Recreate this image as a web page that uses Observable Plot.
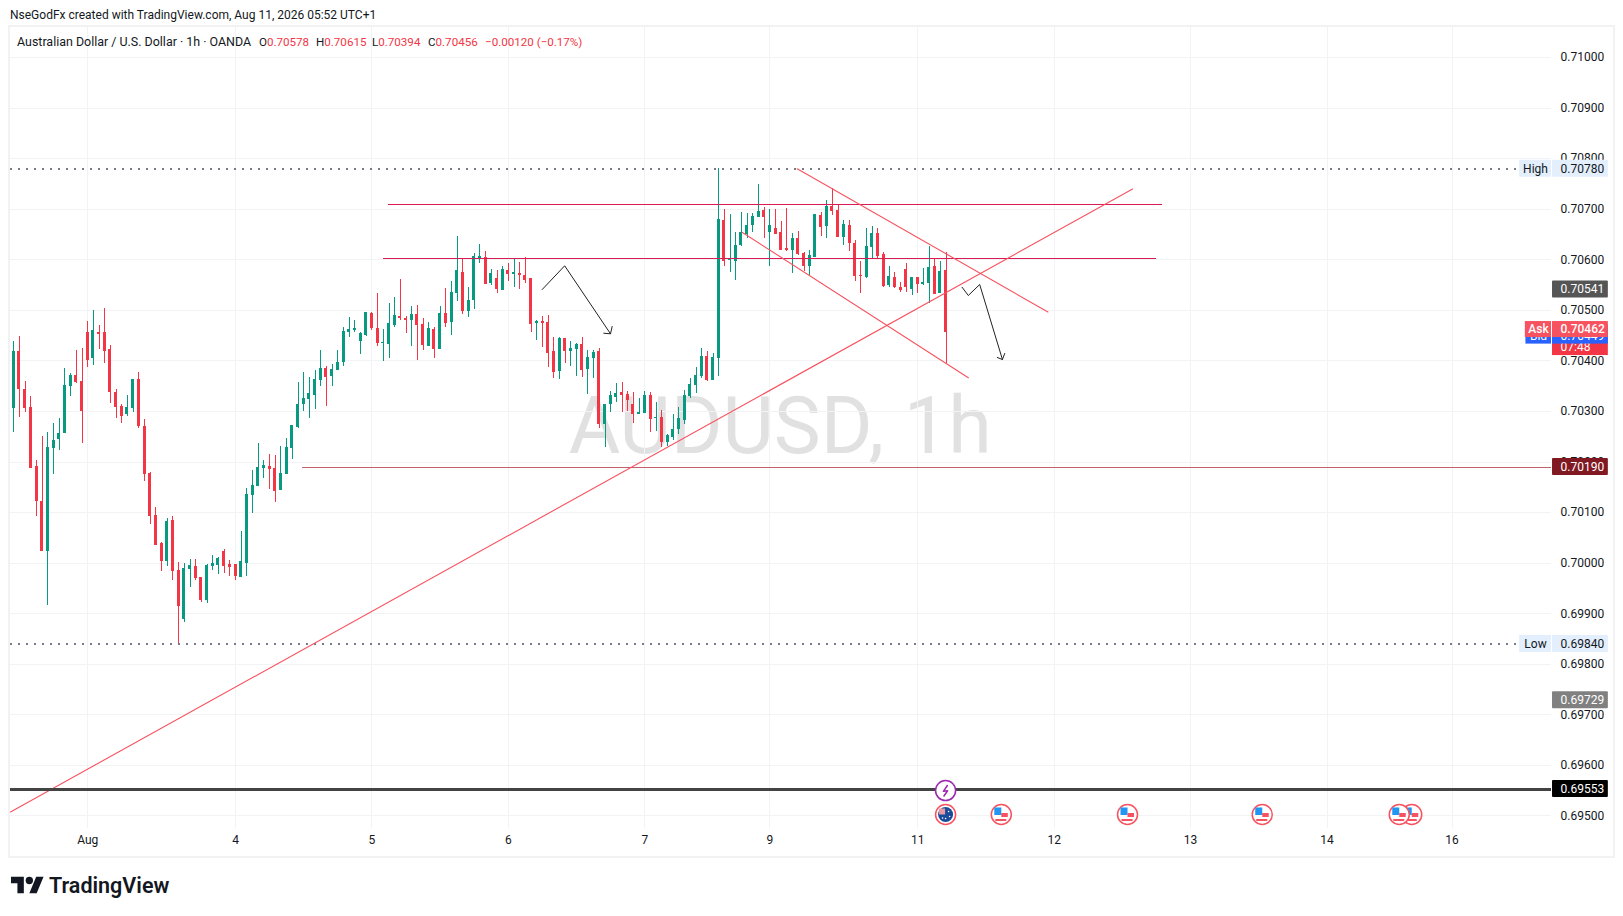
<!DOCTYPE html>
<html><head><meta charset="utf-8">
<script src="https://cdn.jsdelivr.net/npm/d3@7"></script>
<script src="https://cdn.jsdelivr.net/npm/@observablehq/plot@0.6"></script>
<style>
html,body{margin:0;padding:0;background:#fff;width:1623px;height:916px;overflow:hidden;font-family:Roboto,sans-serif;color:#131722}
#credit{position:absolute;left:10px;top:7px;font-size:12px;line-height:16px;letter-spacing:0}
#legend span{position:absolute;top:34px;font-size:11.6px;line-height:16px;white-space:pre;z-index:3}
#legend b{font-weight:400;color:#f23645}
#legend .name{font-size:12.45px}
#panel{position:absolute;left:8px;top:25px;width:1603px;height:829px;border:2px solid #f2f2f2}
#panel svg{display:block}
#logo{position:absolute;left:11px;top:873px;display:flex;align-items:center;gap:5px;font-size:21.5px;font-weight:600;color:#131722;line-height:26px}
</style></head><body>
<div id="credit">NseGodFx created with TradingView.com, Aug 11, 2026 05:52 UTC+1</div>
<div id="legend"><span class="name" style="left:17px">Australian Dollar / U.S. Dollar · 1h · OANDA</span><span style="left:259px">O<b>0.70578</b></span><span style="left:316px">H<b>0.70615</b></span><span style="left:372px">L<b>0.70394</b></span><span style="left:428px">C<b>0.70456</b></span><span style="left:485px"><b>−0.00120 (−0.17%)</b></span></div>
<div id="panel"></div>
<div id="logo"><svg width="33" height="26" viewBox="0 0 36 28"><path fill="#131722" d="M14 22H7V11H0V4h14v18zM28 22h-8l7.5-18h8L28 22z"/><circle fill="#131722" cx="20" cy="8" r="4"/></svg><span>TradingView</span></div>
<script>
// Candles in price points (0.00001)
const opens=[70306,70419,70343,70308,70191,70122,70023,70227,70245,70256,
70349,70371,70359,70456,70405,70456,70456,70423,70337,70310,
70294,70306,70363,70270,70177,70094,70039,70003,70084,69985,
69888,69987,69993,69972,69926,69993,69995,70023,69997,69997,
69972,69999,70134,70152,70187,70191,70187,70144,70175,70227,
70268,70314,70324,70332,70362,70385,70369,70381,70397,70456,
70460,70439,70451,70494,70464,70435,70433,70470,70488,70484,
70480,70492,70472,70429,70462,70423,70494,70476,70534,70575,
70498,70520,70603,70605,70553,70563,70540,70579,70571,70573,
70569,70563,70474,70478,70476,70419,70379,70445,70419,70423,
70433,70383,70405,70419,70275,70314,70328,70337,70333,70314,
70294,70296,70331,70286,70288,70238,70248,70264,70282,70329,
70351,70369,70409,70361,70405,70678,70598,70596,70628,70650,
70668,70683,70697,70654,70662,70654,70622,70618,70642,70612,
70587,70604,70687,70666,70705,70697,70644,70668,70632,70569,
70565,70624,70652,70610,70549,70565,70545,70581,70541,70565,
70551,70553,70587,70533,70578];
const highs=[70438,70448,70359,70330,70203,70250,70258,70276,70286,70385,
70375,70421,70425,70478,70500,70470,70504,70430,70343,70314,
70332,70363,70377,70284,70179,70110,70041,70088,70092,70001,
69999,70007,70007,69972,69997,70015,70011,70027,70005,69997,
70063,70148,70183,70237,70203,70215,70213,70231,70246,70272,
70357,70377,70367,70381,70421,70389,70393,70421,70466,70486,
70480,70456,70496,70496,70534,70462,70514,70526,70561,70488,
70508,70510,70484,70476,70466,70508,70544,70557,70646,70601,
70545,70613,70631,70617,70581,70579,70587,70593,70603,70595,
70605,70563,70480,70488,70490,70447,70447,70445,70439,70435,
70447,70421,70421,70425,70314,70340,70356,70357,70339,70337,
70326,70339,70337,70318,70302,70254,70294,70308,70341,70365,
70387,70424,70418,70415,70780,70699,70689,70654,70693,70691,
70691,70749,70703,70699,70699,70676,70701,70652,70656,70614,
70618,70689,70693,70717,70741,70707,70678,70678,70638,70596,
70662,70666,70662,70614,70587,70575,70555,70593,70565,70565,
70583,70626,70600,70596,70615];
const lows=[70258,70288,70298,70187,70092,70023,69916,70175,70223,70256,
70330,70355,70237,70387,70391,70423,70395,70316,70286,70276,
70290,70298,70266,70161,70076,70035,69983,69993,69966,69841,
69883,69952,69966,69922,69920,69985,69978,69979,69974,69966,
69972,69974,70098,70152,70167,70146,70120,70144,70175,70205,
70266,70300,70286,70304,70350,70310,70350,70381,70389,70447,
70456,70413,70449,70460,70429,70399,70405,70466,70480,70455,
70429,70401,70421,70429,70405,70423,70466,70451,70518,70492,
70486,70502,70593,70551,70549,70534,70540,70557,70545,70542,
70553,70456,70441,70427,70387,70366,70364,70395,70389,70369,
70367,70334,70366,70267,70229,70298,70318,70298,70300,70276,
70294,70296,70258,70260,70229,70231,70242,70254,70274,70326,
70335,70365,70359,70361,70369,70587,70575,70559,70626,70642,
70654,70683,70642,70587,70650,70618,70616,70573,70608,70577,
70567,70604,70646,70642,70687,70644,70628,70616,70557,70533,
70563,70600,70600,70545,70545,70543,70535,70535,70529,70533,
70549,70513,70531,70533,70394];
const closes=[70419,70343,70306,70187,70122,70023,70229,70243,70256,70351,
70371,70357,70300,70401,70460,70452,70419,70337,70308,70290,
70308,70363,70270,70175,70092,70035,70003,70082,69983,69914,
69989,69995,69970,69926,69995,69999,70009,69993,69991,69974,
70003,70136,70154,70189,70193,70185,70142,70177,70229,70272,
70314,70326,70335,70363,70385,70367,70383,70397,70458,70462,
70464,70454,70496,70464,70435,70437,70474,70490,70484,70480,
70492,70470,70431,70464,70423,70494,70474,70536,70579,70498,
70520,70607,70607,70551,70573,70542,70581,70571,70575,70569,
70559,70472,70477,70474,70415,70377,70445,70419,70425,70433,
70381,70407,70417,70275,70314,70332,70336,70331,70322,70294,
70298,70331,70284,70288,70238,70252,70264,70286,70331,70353,
70371,70409,70361,70407,70680,70596,70600,70628,70654,70668,
70685,70695,70683,70668,70650,70618,70618,70642,70610,70587,
70608,70689,70664,70705,70695,70644,70670,70632,70567,70567,
70626,70652,70606,70547,70567,70545,70539,70545,70565,70551,
70555,70585,70531,70577,70456];

const priceTicks=[0.695,0.696,0.697,0.698,0.699,0.700,0.701,0.702,0.703,0.704,0.705,0.706,0.707,0.708,0.709,0.710];
const dayBars=[13,39,63,87,111,133,159,183,207,231,253];
const dayLabels=["Aug","4","5","6","7","9","11","12","13","14","16"];

// Drawings: [bar, price] pairs
const upTrend=[[-0.58,0.695078],[196.8,0.7074]];
const channelUpper=[[137.8,0.7078],[181.9,0.704967]];
const channelLower=[[128.1,0.706545],[167.9,0.703665]];
const resistanceTop=[[65.9,0.70709],[201.9,0.70709]];
const resistanceMid=[[65,0.70602],[200.9,0.70602]];
const arrowOne=[[92.95,0.705412],[96.9,0.705881],[104.96,0.704536]];
const arrowOneHead=[[103.78,0.704547],[104.96,0.704536],[105.25,0.70468]];
const arrowTwo=[[166.8,0.705457],[167.9,0.705293],[169.9,0.705511],[173.9,0.704027]];
const arrowTwoHead=[[173,0.704067],[173.9,0.704027],[174.3,0.704146]];

const highPrice=0.7078, lowPrice=0.6984, supportPrice=0.7019, thickPrice=0.69553;
const supportStartBar=50.8;
const usEventBars=[245.9,243.7,219.6,195.9,173.7];
const auEventBar=163.9;
const iconPrice=0.695028, boltPrice=0.695502;

// Price tags
const tagPrices=[0.7078,0.70541,0.7019,0.6984,0.69729,0.69553];
const tagFills=["#e3effd","#555555","#801922","#e3effd","#808080","#000000"];
const tagInks=["#131722","#ffffff","#ffffff","#131722","#ffffff","#ffffff"];

const candles=opens.map((o,i)=>({i,open:o/1e5,high:highs[i]/1e5,low:lows[i]/1e5,close:closes[i]/1e5,up:closes[i]>=o}));
const barPx=5.685, pricePx=50560;
const xMax=270.48;
const GREEN="#089981",RED="#f23645",TREND="#f7525f",LEVEL="#d81b53";
const tags=tagPrices.map((p,k)=>({p,fill:tagFills[k],ink:tagInks[k],t:p.toFixed(5)}));

const seg=(pts,opt)=>Plot.line(pts,{x:d=>d[0],y:d=>d[1],strokeWidth:1,...opt});
const boxX1=xMax+0.18, boxX2=xMax+10;
const tagH=8.5/pricePx;
const fig=(x,p,l,r,t,b,fill)=>({x1:x+l/barPx,x2:x+r/barPx,y1:p-t/pricePx,y2:p-b/pricePx,fill});

const marks=[
  Plot.text([0],{x:()=>134.8,y:()=>0.70268,text:()=>"AUDUSD, 1h",fontSize:79,fill:"#e1e1e1",fontFamily:"Roboto",lineAnchor:"middle",style:"word-spacing:8px"}),
  Plot.ruleY(priceTicks,{stroke:"#f2f3f5",shapeRendering:"crispEdges"}),
  Plot.ruleX(dayBars,{stroke:"#f2f3f5",shapeRendering:"crispEdges"}),
  Plot.axisY({anchor:"right",ticks:priceTicks,tickSize:0,tickPadding:9,tickFormat:d3.format(".5f"),label:null,fill:"#131722",fontSize:12}),
  Plot.axisX({anchor:"bottom",ticks:dayBars,tickSize:0,tickPadding:7,tickFormat:d=>dayLabels[dayBars.indexOf(d)],label:null,fill:"#131722",fontSize:12}),
  Plot.ruleX(candles,{x:"i",y1:"low",y2:"high",stroke:d=>d.up?GREEN:RED,strokeWidth:1,shapeRendering:"crispEdges"}),
  Plot.rect(candles,{x1:d=>d.i-0.264,x2:d=>d.i+0.264,y1:d=>d.open,y2:d=>Math.abs(d.close-d.open)<2e-5?d.open+2e-5:d.close,fill:d=>d.up?GREEN:RED,shapeRendering:"crispEdges"}),
  Plot.ruleY([highPrice,lowPrice],{x1:-0.58,x2:265,stroke:"#787b86",strokeDasharray:"2 6",strokeWidth:2,shapeRendering:"crispEdges"}),
  Plot.ruleY([supportPrice],{x1:supportStartBar,x2:xMax,stroke:"#c0616c",shapeRendering:"crispEdges"}),
  seg(resistanceTop,{stroke:LEVEL,shapeRendering:"crispEdges"}),
  seg(resistanceMid,{stroke:LEVEL,shapeRendering:"crispEdges"}),
  seg(upTrend,{stroke:TREND,strokeWidth:1.1}),
  seg(channelUpper,{stroke:TREND,strokeWidth:1.1}),
  seg(channelLower,{stroke:TREND,strokeWidth:1.1}),
  seg(arrowOne,{stroke:"#222"}),seg(arrowOneHead,{stroke:"#222"}),
  seg(arrowTwo,{stroke:"#222"}),seg(arrowTwoHead,{stroke:"#222"}),
  Plot.ruleY([thickPrice],{stroke:"#434343",strokeWidth:3,shapeRendering:"crispEdges"}),
  // left-of-axis labels
  Plot.rect([highPrice,lowPrice],{x1:xMax-5.6,x2:xMax,y1:d=>d-tagH,y2:d=>d+tagH,fill:"#e3effd"}),
  Plot.text([[highPrice,"High"],[lowPrice,"Low"]],{x:xMax,dx:-16,y:d=>d[0],text:d=>d[1],fill:"#131722",fontSize:12,fontFamily:"Roboto"}),
  // countdown, bid, ask stack
  Plot.rect([0.70456],{x1:boxX1,x2:boxX2,y1:d=>d-23/pricePx,y2:d=>d+8/pricePx,fill:RED}),
  Plot.text(["07:48"],{x:boxX1,dx:8,y:()=>0.70456-15/pricePx,text:d=>d,textAnchor:"start",fill:"#fff",fontSize:12,fontFamily:"Roboto"}),
  Plot.rect([0.70449],{x1:boxX1,x2:boxX2,y1:d=>d-8/pricePx,y2:d=>d+8/pricePx,fill:"#2962ff"}),
  Plot.rect([0.70449],{x1:xMax-4.5,x2:xMax,y1:d=>d-8/pricePx,y2:d=>d+8/pricePx,fill:"#2962ff"}),
  Plot.text(["Bid"],{x:xMax,dx:-13,y:()=>0.70449,text:d=>d,fill:"#fff",fontSize:12,fontFamily:"Roboto"}),
  Plot.text(["0.70449"],{x:boxX1,dx:8,y:()=>0.70449,text:d=>d,textAnchor:"start",fill:"#fff",fontSize:12,fontFamily:"Roboto"}),
  Plot.rect([0.70462],{x1:boxX1,x2:boxX2,y1:d=>d-8/pricePx,y2:d=>d+8/pricePx,fill:"#f7525f"}),
  Plot.rect([0.70462],{x1:xMax-4.6,x2:xMax,y1:d=>d-8/pricePx,y2:d=>d+8/pricePx,fill:"#f7525f"}),
  Plot.text(["Ask"],{x:xMax,dx:-13,y:()=>0.70462,text:d=>d,fill:"#fff",fontSize:12,fontFamily:"Roboto",fontWeight:500}),
  Plot.text(["0.70462"],{x:boxX1,dx:8,y:()=>0.70462,text:d=>d,textAnchor:"start",fill:"#fff",fontSize:12,fontFamily:"Roboto",fontWeight:500}),
  // value tags
  Plot.rect(tags,{x1:boxX1,x2:boxX2,y1:d=>d.p-tagH,y2:d=>d.p+tagH,fill:"fill",rx:1}),
  Plot.text(tags,{x:boxX1,dx:8,y:"p",text:"t",textAnchor:"start",fill:"ink",fontSize:12,fontFamily:"Roboto",fontWeight:d=>d.ink==="#ffffff"?500:400}),
  // lightning event
  Plot.dot([auEventBar],{x:d=>d,y:()=>boltPrice,r:10,fill:"#fff",stroke:"#9c27b0",strokeWidth:1.5}),
  seg([[1.8,-5],[-2.2,0.8],[2,0.2],[-1.6,5.5]].map(([a,b])=>[auEventBar+a/barPx,boltPrice-b/pricePx]),{stroke:"#9c27b0",strokeWidth:1.5}),
  // Australia event
  Plot.dot([auEventBar],{x:d=>d,y:()=>iconPrice,r:10,fill:"#fff",stroke:TREND,strokeWidth:1.5}),
  Plot.dot([auEventBar],{x:d=>d,y:()=>iconPrice,r:7.5,fill:"#1a4a9b"}),
  Plot.rect([fig(auEventBar,iconPrice,-6,0,-5.5,0.5,"#e89aa5")],{x1:"x1",x2:"x2",y1:"y1",y2:"y2",fill:"fill"}),
  Plot.dot([[3,-3],[4,2],[0,4],[-3,3.5]],{x:d=>auEventBar+d[0]/barPx,y:d=>iconPrice-d[1]/pricePx,r:0.8,fill:"#fff"})
];
// US events: later bars underneath, earlier ones on top
usEventBars.forEach(x=>{
  marks.push(
    Plot.dot([x],{x:d=>d,y:()=>iconPrice,r:10,fill:"#fff",stroke:TREND,strokeWidth:1.5}),
    Plot.rect([fig(x,iconPrice,-6.5,0.5,-6.5,1,"#2196f3"),fig(x,iconPrice,0.5,7,-1,3,"#f7525f"),fig(x,iconPrice,-5.5,5.5,5,7,"#f7525f")],{x1:"x1",x2:"x2",y1:"y1",y2:"y2",fill:"fill"})
  );
});

const chart=Plot.plot({
  width:1603,height:829,
  marginLeft:0,marginRight:62,marginTop:0,marginBottom:28,
  style:{fontFamily:"Roboto",fontSize:"12px",background:"#fff",overflow:"visible"},
  x:{type:"linear",domain:[-0.58,xMax],axis:null},
  y:{type:"linear",domain:[0.694751,0.710594],axis:null},
  marks
});
document.getElementById("panel").appendChild(chart);
</script>
</body></html>
